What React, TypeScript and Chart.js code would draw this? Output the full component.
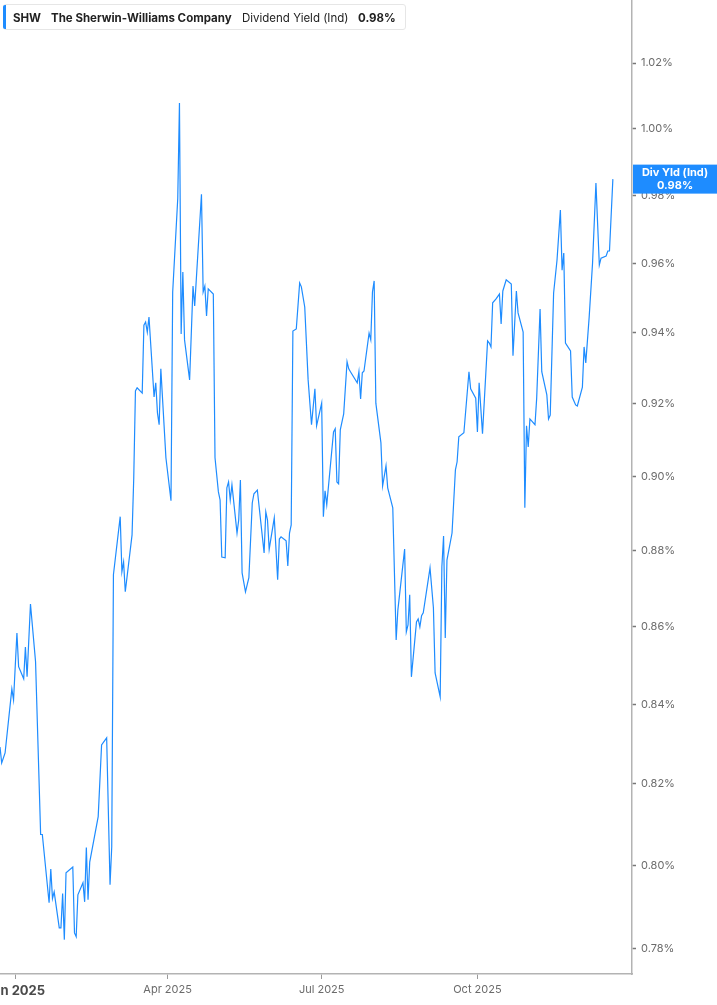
import React, { useEffect, useRef } from "react";
import Chart from "chart.js/auto";

// SHW dividend yield (indicated), in percent
const dates = [
  "2024-12-23", "2024-12-24", "2024-12-26", "2024-12-30", "2024-12-31",
  "2025-01-02", "2025-01-03", "2025-01-06", "2025-01-07", "2025-01-08",
  "2025-01-10", "2025-01-13", "2025-01-16", "2025-01-17", "2025-01-21",
  "2025-01-22", "2025-01-23", "2025-01-24", "2025-01-27", "2025-01-28",
  "2025-01-29", "2025-01-30", "2025-01-31", "2025-02-04", "2025-02-05",
  "2025-02-06", "2025-02-07", "2025-02-10", "2025-02-11", "2025-02-12",
  "2025-02-13", "2025-02-14", "2025-02-19", "2025-02-21", "2025-02-24",
  "2025-02-26", "2025-02-27", "2025-02-28", "2025-03-04", "2025-03-05",
  "2025-03-06", "2025-03-07", "2025-03-11", "2025-03-12", "2025-03-13",
  "2025-03-14", "2025-03-17", "2025-03-18", "2025-03-19", "2025-03-20",
  "2025-03-21", "2025-03-24", "2025-03-25", "2025-03-26", "2025-03-27",
  "2025-03-28", "2025-03-31", "2025-04-03", "2025-04-04", "2025-04-07",
  "2025-04-08", "2025-04-09", "2025-04-10", "2025-04-11", "2025-04-14",
  "2025-04-16", "2025-04-17", "2025-04-21", "2025-04-22", "2025-04-23",
  "2025-04-24", "2025-04-25", "2025-04-28", "2025-04-29", "2025-05-01",
  "2025-05-02", "2025-05-03", "2025-05-05", "2025-05-06", "2025-05-07",
  "2025-05-08", "2025-05-09", "2025-05-12", "2025-05-13", "2025-05-14",
  "2025-05-15", "2025-05-17", "2025-05-19", "2025-05-21", "2025-05-22",
  "2025-05-24", "2025-05-28", "2025-05-29", "2025-05-30", "2025-05-31",
  "2025-06-03", "2025-06-05", "2025-06-06", "2025-06-07", "2025-06-10",
  "2025-06-11", "2025-06-12", "2025-06-13", "2025-06-14", "2025-06-16",
  "2025-06-18", "2025-06-19", "2025-06-21", "2025-06-23", "2025-06-25",
  "2025-06-27", "2025-06-28", "2025-07-01", "2025-07-02", "2025-07-03",
  "2025-07-04", "2025-07-08", "2025-07-09", "2025-07-10", "2025-07-11",
  "2025-07-12", "2025-07-14", "2025-07-16", "2025-07-17", "2025-07-18",
  "2025-07-22", "2025-07-23", "2025-07-24", "2025-07-25", "2025-07-26",
  "2025-07-29", "2025-07-30", "2025-07-31", "2025-08-01", "2025-08-02",
  "2025-08-05", "2025-08-06", "2025-08-08", "2025-08-09", "2025-08-12",
  "2025-08-14", "2025-08-15", "2025-08-19", "2025-08-20", "2025-08-21",
  "2025-08-22", "2025-08-23", "2025-08-26", "2025-08-27", "2025-08-28",
  "2025-08-29", "2025-08-30", "2025-09-03", "2025-09-05", "2025-09-06",
  "2025-09-09", "2025-09-10", "2025-09-11", "2025-09-12", "2025-09-13",
  "2025-09-16", "2025-09-18", "2025-09-19", "2025-09-20", "2025-09-23",
  "2025-09-26", "2025-09-27", "2025-09-30", "2025-10-01", "2025-10-02",
  "2025-10-04", "2025-10-07", "2025-10-08", "2025-10-09", "2025-10-10",
  "2025-10-12", "2025-10-14", "2025-10-15", "2025-10-16", "2025-10-18",
  "2025-10-21", "2025-10-22", "2025-10-24", "2025-10-25", "2025-10-28",
  "2025-10-29", "2025-10-30", "2025-10-31", "2025-11-01", "2025-11-04",
  "2025-11-05", "2025-11-07", "2025-11-08", "2025-11-11", "2025-11-12",
  "2025-11-13", "2025-11-15", "2025-11-17", "2025-11-19", "2025-11-20",
  "2025-11-21", "2025-11-22", "2025-11-25", "2025-11-26", "2025-11-28",
  "2025-11-29", "2025-12-02", "2025-12-03", "2025-12-04", "2025-12-06",
  "2025-12-08", "2025-12-10", "2025-12-12", "2025-12-13", "2025-12-16",
  "2025-12-17", "2025-12-18", "2025-12-20",
];

const divYield = [
  0.8292, 0.8252, 0.8277, 0.8439, 0.8411,
  0.8583, 0.8496, 0.8465, 0.8547, 0.847,
  0.8659, 0.8509, 0.8075, 0.8075, 0.791,
  0.7991, 0.792, 0.7936, 0.785, 0.785,
  0.7932, 0.7822, 0.7982, 0.7996, 0.7838,
  0.7829, 0.7929, 0.7958, 0.7912, 0.8043,
  0.7917, 0.8008, 0.8119, 0.8297, 0.8315,
  0.7953, 0.8045, 0.8736, 0.8891, 0.8744,
  0.877, 0.8691, 0.8842, 0.8996, 0.9236,
  0.9245, 0.923, 0.9422, 0.9431, 0.9402,
  0.9445, 0.9219, 0.9259, 0.9175, 0.9142,
  0.9298, 0.9051, 0.8934, 0.9517, 0.9791,
  1.0078, 0.9397, 0.9575, 0.938, 0.9267,
  0.9534, 0.9477, 0.9803, 0.9517, 0.9534,
  0.9448, 0.9526, 0.9511, 0.9051, 0.8958,
  0.8936, 0.8783, 0.8781, 0.8969, 0.8985,
  0.8936, 0.8977, 0.8847, 0.8882, 0.899,
  0.8741, 0.8691, 0.8728, 0.8928, 0.8953,
  0.8963, 0.8794, 0.8904, 0.8882, 0.8804,
  0.8888, 0.8723, 0.8831, 0.8837, 0.8826,
  0.8759, 0.8847, 0.8869, 0.9405, 0.9411,
  0.9543, 0.9532, 0.9474, 0.9267, 0.9142,
  0.9242, 0.9139, 0.9202, 0.8891, 0.8961,
  0.8923, 0.9122, 0.9131, 0.8985, 0.898,
  0.9128, 0.9172, 0.9318, 0.9298, 0.929,
  0.9259, 0.929, 0.9214, 0.9287, 0.9292,
  0.9399, 0.938, 0.9517, 0.9549, 0.9202,
  0.9092, 0.8974, 0.9029, 0.8969, 0.8915,
  0.8565, 0.8643, 0.8804, 0.8586, 0.8604,
  0.8683, 0.847, 0.8612, 0.862, 0.8599,
  0.8628, 0.8636, 0.8754, 0.8649, 0.848,
  0.8419, 0.8757, 0.8839, 0.857, 0.8775,
  0.8847, 0.9018, 0.904, 0.9109, 0.912,
  0.929, 0.9242, 0.9216, 0.9122, 0.9259,
  0.9117, 0.9377, 0.9371, 0.936, 0.9486,
  0.9497, 0.9511, 0.9425, 0.952, 0.9552,
  0.954, 0.9335, 0.952, 0.9457, 0.9402,
  0.8915, 0.9139, 0.9081, 0.9158, 0.9142,
  0.9216, 0.9468, 0.929, 0.9225, 0.9158,
  0.9169, 0.9514, 0.9609, 0.9756, 0.958,
  0.963, 0.9371, 0.9349, 0.9219, 0.9197,
  0.9194, 0.9247, 0.936, 0.9315, 0.9445,
  0.9601, 0.9836, 0.9595, 0.9615, 0.9621,
  0.9636, 0.9636, 0.9848,
];

const yTicks = [0.78, 0.8, 0.82, 0.84, 0.86, 0.88, 0.9, 0.92, 0.94, 0.96, 0.98, 1.0, 1.02];
const xTickDates = ["2025-01-01", "2025-04-01", "2025-07-01", "2025-10-01"];
const xTickLabels = ["Jan 2025", "Apr 2025", "Jul 2025", "Oct 2025"];

const LINE_BLUE = "#1e8cff";
const FONT = "Inter, 'Noto Sans', sans-serif";

// days since 2025-01-01
function dayNum(s: string) {
  const [y, m, d] = s.split("-").map(Number);
  return (Date.UTC(y, m - 1, d) - Date.UTC(2025, 0, 1)) / 86400000;
}

const lastValuePlugin = {
  id: "lastValue",
  afterDraw(chart: any) {
    const { ctx, chartArea, scales } = chart;
    const pts = chart.data.datasets[0].data;
    const last = pts[pts.length - 1];
    const y = scales.y.getPixelForValue(last.y);
    const x0 = chartArea.right + 1;
    const w = chart.width - x0;
    ctx.save();
    ctx.fillStyle = LINE_BLUE;
    ctx.fillRect(x0, y - 14.5, w, 29);
    ctx.fillStyle = "#fff";
    ctx.font = `bold 11px ${FONT}`;
    ctx.textAlign = "center";
    ctx.textBaseline = "middle";
    ctx.fillText("Div Yld (Ind)", x0 + w / 2, y - 6);
    ctx.fillText(last.y.toFixed(2) + "%", x0 + w / 2, y + 6.5);
    ctx.restore();
  },
};

function YieldChart() {
  const canvasRef = useRef<HTMLCanvasElement>(null);

  useEffect(() => {
    document.body.style.margin = "0";
    const points = dates.map((d, i) => ({ x: dayNum(d), y: divYield[i] }));
    const tickDays = xTickDates.map(dayNum);

    const chart = new Chart(canvasRef.current as HTMLCanvasElement, {
      type: "line",
      data: {
        datasets: [
          {
            data: points,
            borderColor: LINE_BLUE,
            borderWidth: 1.2,
            pointRadius: 0,
            tension: 0,
          },
        ],
      },
      options: {
        responsive: false,
        animation: false,
        layout: { padding: 0 },
        plugins: { legend: { display: false }, tooltip: { enabled: false } },
        scales: {
          x: {
            type: "linear",
            bounds: "data",
            min: -9,
            max: 364.3,
            afterBuildTicks: (scale: any) => {
              scale.ticks = tickDays.map((v) => ({ value: v }));
            },
            afterFit: (scale: any) => {
              scale.height = 31;
              scale.paddingLeft = 0;
              scale.paddingRight = 0;
            },
            grid: {
              drawOnChartArea: false,
              drawTicks: true,
              tickLength: 5,
              tickWidth: 1,
              tickColor: "#9a9a9a",
            },
            border: { display: true, color: "#b3b3b3", width: 1.5 },
            ticks: {
              autoSkip: false,
              maxRotation: 0,
              padding: 4,
              color: (c: any) => (c.index === 0 ? "#4a4a4a" : "#6b6b6b"),
              font: (c: any) =>
                c.index === 0
                  ? { family: FONT, size: 13, weight: "bold" }
                  : { family: FONT, size: 11 },
              callback: (v: any) => {
                const i = tickDays.indexOf(Number(v));
                return i >= 0 ? xTickLabels[i] : "";
              },
            },
          },
          y: {
            type: "logarithmic",
            position: "right",
            bounds: "data",
            min: 0.7741,
            max: 1.0397,
            afterBuildTicks: (scale: any) => {
              scale.ticks = yTicks.map((v) => ({ value: v }));
            },
            afterFit: (scale: any) => {
              scale.width = 85;
              scale.paddingTop = 0;
              scale.paddingBottom = 0;
            },
            grid: {
              drawOnChartArea: false,
              drawTicks: true,
              tickLength: 4,
              tickColor: "#777",
              tickWidth: 1.5,
            },
            border: { display: true, color: "#b3b3b3", width: 1.5 },
            ticks: {
              autoSkip: false,
              padding: 5,
              color: "#6b6b6b",
              font: { family: FONT, size: 11 },
              callback: (v: any) => Number(v).toFixed(2) + "%",
            },
          },
        },
      },
      plugins: [lastValuePlugin],
    } as any);

    return () => {
      chart.destroy();
    };
  }, []);

  return (
    <canvas
      ref={canvasRef}
      width={717}
      height={1005}
      style={{ width: "717px", height: "1005px", display: "block" }}
    />
  );
}

function Legend() {
  const base: React.CSSProperties = {
    position: "absolute",
    top: 6,
    fontFamily: FONT,
    fontSize: 11.5,
    lineHeight: "15px",
    color: "#222",
    whiteSpace: "nowrap",
  };
  return (
    <div
      style={{
        position: "absolute",
        left: 3,
        top: 4,
        width: 403,
        height: 26,
        background: "#fff",
        border: "1px solid #e6e6e6",
        borderRadius: 3,
        boxSizing: "border-box",
      }}
    >
      <div
        style={{
          position: "absolute",
          left: -1,
          top: 0,
          width: 3,
          height: 24,
          background: LINE_BLUE,
          borderRadius: "2px 0 0 2px",
        }}
      />
      <span style={{ ...base, left: 9, fontWeight: 700 }}>SHW</span>
      <span style={{ ...base, left: 47, fontWeight: 700 }}>The Sherwin-Williams Company</span>
      <span style={{ ...base, left: 238, fontWeight: 400 }}>Dividend Yield (Ind)</span>
      <span style={{ ...base, left: 354, fontWeight: 700 }}>0.98%</span>
    </div>
  );
}

export default function App() {
  return (
    <div style={{ position: "relative", width: 717, height: 1005, background: "#fff" }}>
      <YieldChart />
      <Legend />
    </div>
  );
}
